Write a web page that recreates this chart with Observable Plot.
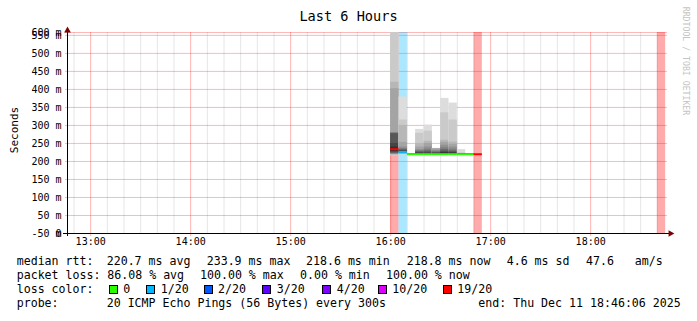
<!DOCTYPE html>
<html><head><meta charset="utf-8">
<script src="https://cdn.jsdelivr.net/npm/d3@7"></script>
<script src="https://cdn.jsdelivr.net/npm/@observablehq/plot@0.6"></script>
<style>
body{margin:0;background:#fff;}
#wrap{position:relative;width:697px;height:321px;overflow:hidden;font-family:"DejaVu Sans Mono",monospace;color:#000;}
#wrap svg{position:absolute;left:0;top:0;}
.t{position:absolute;white-space:pre;line-height:14px;font-size:11.6px;}
.sw{position:absolute;width:9px;height:9px;box-sizing:border-box;border:1px solid #000;}
</style></head><body><div id="wrap"></div>
<script>
// ---------- data ----------
const title = "Last 6 Hours";
const yAxisLabel = "Seconds";
const watermark = "RRDTOOL / TOBI OETIKER";
const endTime = "2025-12-11T18:46:06Z";
const spanHours = 6;
const stepSeconds = 300;
const yMax = 558;
const xTickLabels = ["13:00","14:00","15:00","16:00","17:00","18:00"];
const yTickValues = [0, 0, 50, 100, 150, 200, 250, 300, 350, 400, 450, 500, 550, 558];
const yTickLabels = ["-50 m","0","50 m","100 m","150 m","200 m","250 m","300 m","350 m","400 m","450 m","500 m","550 m","600 m"];
const stepStarts = ["16:00","16:05","16:10","16:15","16:20","16:25","16:30","16:35","16:40","16:45","16:50"];
const medians =    [234, 226.5, 220, 220, 220, 220, 220, 220, 220, 220, 220];
const medianLoss = ["19/20","1/20","0","0","0","0","0","0","0","0","19/20"];
const pings = [
  [216,217,218,219,220,221,222,224,226,228,240,250,277,278,279,280,402,420,580,620],
  [218,219,220,221,222,223,224,225,226,227,228,229,231,233,236,240,253,300,315,379],
  [218,218.5,219,219,219.5,219.5,220,220,220,220,220,220,220.5,220.5,221,221,221,221.5,222,222],
  [218,218.5,219,219,219.5,219.5,220,220,220.5,221,222,224,226,228,230,233,240,250,278,289],
  [218,218.5,219,219,219.5,220,220,220.5,221,221.5,222,224,227,230,234,240,250,256,284,301],
  [218,218.5,219,219,219.5,220,220,220.5,221,221.5,222,223,224,226,228,231,235,235.5,236,236.5],
  [218,218.5,219,219,219.5,220,220,220.5,221,221.5,224,226,229,233,238,245,253,259,335,375],
  [218,218.5,219,219,219.5,220,220,220.5,221,221.5,223,225,227,230,234,240,248,254,315,362],
  [218,218.5,218.5,219,219,219.5,219.5,220,220,220,220.5,221,221,221.5,221.5,222,222,222.5,223,233],
  [218,218.5,218.5,219,219,219.5,219.5,220,220,220,220,220.5,220.5,221,221,221,221.5,221.5,222,222],
  []
];
const lossBandStarts = ["16:00","16:05","16:50","18:40"];
const lossBandLevels = ["19/20","1/20","19/20","19/20"];
const lossNames  = ["0","1/20","2/20","3/20","4/20","10/20","19/20"];
const lossColors = ["#26ff00","#00b8ff","#0059ff","#5e00ff","#7e00ff","#dd00ff","#ff0000"];
const medianStats = ["220.7 ms avg","233.9 ms max","218.6 ms min","218.8 ms now","4.6 ms sd","47.6   am/s"];
const lossStats = ["86.08 % avg","100.00 % max","0.00 % min","100.00 % now"];
const probeText = "20 ICMP Echo Pings (56 Bytes) every 300s";
const endText = "end: Thu Dec 11 18:46:06 2025";

// ---------- build ----------
const wrap = document.getElementById("wrap");
const mono = "DejaVu Sans Mono";
const end = new Date(endTime);
const start = new Date(+end - spanHours * 3600e3);
const step = stepSeconds * 1000;
const T = s => new Date(`2025-12-11T${s}:00Z`);
const colorOf = Object.fromEntries(lossNames.map((n, i) => [n, lossColors[i]]));

const smoke = [];
stepStarts.forEach((s, c) => {
  const p = pings[c].slice().sort((a, b) => a - b);
  const n = p.length, half = Math.floor(n / 2);
  for (let i = 1; i <= half; i++) {
    const g = Math.floor(190 / half * (half - i)) + 50;
    smoke.push({x1: T(s), x2: new Date(+T(s) + step), y1: p[i - 1], y2: p[n - i], fill: `rgb(${g},${g},${g})`});
  }
});
const med = stepStarts.map((s, c) => ({x1: T(s), x2: new Date(+T(s) + step), y: medians[c], stroke: colorOf[medianLoss[c]]}));
const bands = lossBandStarts.map((s, c) => ({x1: T(s), x2: new Date(+T(s) + step), fill: colorOf[lossBandLevels[c]]}));
const hours = xTickLabels.map(T);
const minor = d3.utcMinute.every(10).range(start, end).filter(d => d.getUTCMinutes() !== 0);
const yGrid = yTickValues.filter(v => v > 0);
const yLab = yTickValues.map((v, i) => ({v, label: yTickLabels[i]}));

const chart = Plot.plot({
  width: 697, height: 321,
  marginLeft: 67, marginRight: 30, marginTop: 32, marginBottom: 88,
  style: {fontFamily: mono, fontSize: "10px", background: "transparent"},
  x: {type: "utc", domain: [start, end], axis: null},
  y: {domain: [0, yMax], axis: null},
  color: {type: "identity"},
  marks: [
    Plot.ruleX(minor, {stroke: "#e6e6e6"}),
    Plot.ruleX(hours, {stroke: "rgba(255,0,0,0.3)", insetBottom: -3}),
    Plot.ruleY(yGrid, {stroke: "rgba(255,0,0,0.28)", insetLeft: -2}),
    Plot.rect(bands, {x1: "x1", x2: "x2", fill: "fill", fillOpacity: 0.33}),
    Plot.rect(smoke, {x1: "x1", x2: "x2", y1: "y1", y2: "y2", fill: "fill", clip: true}),
    Plot.ruleY(med, {x1: "x1", x2: "x2", y: "y", stroke: "stroke", strokeWidth: 2}),
    Plot.ruleY([0], {stroke: "#000", insetLeft: -4, insetRight: -2}),
    Plot.ruleX([start], {stroke: "#000", insetTop: -3, insetBottom: -3}),
    Plot.dot([0], {frameAnchor: "top-left", symbol: "triangle", r: 2.5, fill: "#7f0000", stroke: null, dy: -2}),
    Plot.dot([0], {frameAnchor: "bottom-right", symbol: "triangle", rotate: 90, r: 2.5, fill: "#7f0000", stroke: null, dx: 3}),
    Plot.text(hours, {x: d => d, frameAnchor: "bottom", text: (d, i) => xTickLabels[i], dy: 11, fontSize: 10, fill: "#000"}),
    Plot.text(yLab, {y: "v", frameAnchor: "left", text: "label", textAnchor: "end", dx: -6, fontSize: 10, fill: "#000"})
  ]
});
wrap.appendChild(chart);

function addText(txt, x, top, cls, extra) {
  const d = document.createElement("div");
  d.className = cls || "t";
  d.textContent = txt;
  d.style.left = x + "px"; d.style.top = top + "px";
  if (extra) Object.assign(d.style, extra);
  wrap.appendChild(d);
  return d;
}
// title
addText(title, 0, 8, "t", {width: "697px", textAlign: "center", fontSize: "13.6px", lineHeight: "16px"});
// y label
addText(yAxisLabel, -35, 123, "t", {width: "100px", textAlign: "center", fontSize: "11px", transform: "rotate(-90deg)"});
// watermark
addText(watermark, 626, 54, "t", {width: "120px", textAlign: "center", fontSize: "8.2px", color: "#c4c4c4", transform: "rotate(90deg)"});
// legend
const L = 16.7, rows = [254, 268, 282, 296];
addText("median rtt:", L, rows[0]);
[106.7, 206.7, 306, 406.7, 506.7, 586].forEach((x, i) => addText(medianStats[i], x, rows[0]));
addText("packet loss:", L, rows[1]);
[107.3, 200, 300, 386].forEach((x, i) => addText(lossStats[i], x, rows[1]));
addText("loss color:", L, rows[2]);
[109.3, 146.7, 204, 262.7, 322.7, 378.3, 443.3].forEach((x, i) => {
  const s = document.createElement("div");
  s.className = "sw"; s.style.left = (x - 0.5) + "px"; s.style.top = "284.5px"; s.style.background = lossColors[i];
  wrap.appendChild(s);
  addText(lossNames[i], x + 14, rows[2]);
});
addText("probe:", L, rows[3]);
addText(probeText, 106.7, rows[3]);
addText(endText, 478.3, rows[3]);
</script></body></html>
